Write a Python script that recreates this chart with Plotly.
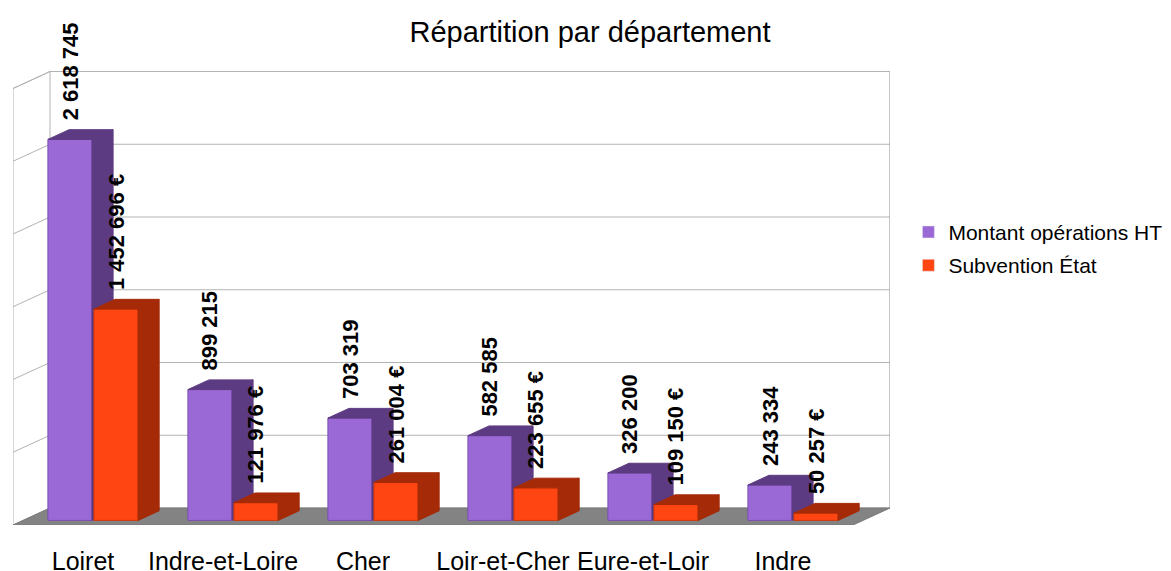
import plotly.graph_objects as go


# -------------------------------------------------
# Data
# -------------------------------------------------

departements = ["Loiret", "Indre-et-Loire", "Cher", "Loir-et-Cher", "Eure-et-Loir", "Indre"]
montant_ht = [2618745, 899215, 703319, 582585, 326200, 243334]
subvention = [1452696, 121976, 261004, 223655, 109150, 50257]

series_names = ["Montant opérations HT", "Subvention État"]
grid_values = [500000, 1000000, 1500000, 2000000, 2500000, 3000000]


# -------------------------------------------------
# Fake 3D geometry (in data units)
# -------------------------------------------------

PX_PER_UNIT = 145.5 / 1e6          # pixels per euro on the value axis
DEPTH_X = 37 / 140                 # full depth offset, in category slots
DEPTH_Y = 17 / PX_PER_UNIT         # full depth offset, in euros
BAR_D0, BAR_D1 = 0.27, 0.84        # bar depth (front / back)
BAR_W = 0.315
Y_TOP = 455 / PX_PER_UNIT

front_col = ["#9b69d5", "#ff4511"]
dark_col = ["#5d3b82", "#a52a07"]
edge_col = ["#7a4fb0", "#d13a0c"]

# the page body has an 8px margin, so the figure is drawn 8px in
PAGE = 8
W, H = 1171 - PAGE, 571 - PAGE


def proj(x, v, d):
    return x + d * DEPTH_X, v + d * DEPTH_Y


def bar_faces(values, offset):
    front_x, front_y, top_x, top_y, side_x, side_y = [], [], [], [], [], []
    for i, v in enumerate(values):
        x0 = i + 0.5 + offset - BAR_W / 2
        x1 = x0 + BAR_W
        for pts, bx, by in (
            ([(x0, 0, BAR_D0), (x1, 0, BAR_D0), (x1, v, BAR_D0), (x0, v, BAR_D0)], front_x, front_y),
            ([(x0, v, BAR_D0), (x1, v, BAR_D0), (x1, v, BAR_D1), (x0, v, BAR_D1)], top_x, top_y),
            ([(x1, 0, BAR_D0), (x1, 0, BAR_D1), (x1, v, BAR_D1), (x1, v, BAR_D0)], side_x, side_y),
        ):
            for p in pts:
                px, py = proj(*p)
                bx.append(px)
                by.append(py)
            px, py = proj(*pts[0])
            bx += [px, None]
            by += [py, None]
    return (front_x, front_y), (top_x, top_y), (side_x, side_y)


fig = go.Figure()

n = len(departements)

# -------------------------------------------------
# Walls, floor and grid
# -------------------------------------------------

wall_x, wall_y = [], []
for p in [(0, 0, 0), (0, 0, 1), (n, 0, 1), (n, grid_values[-1], 1),
          (0, grid_values[-1], 1), (0, grid_values[-1], 0), (0, 0, 0)]:
    px, py = proj(*p)
    wall_x.append(px)
    wall_y.append(py)

fig.add_trace(go.Scatter(x=wall_x, y=wall_y, mode="lines", fill="toself",
                         fillcolor="white", line=dict(color="#b3b3b3", width=1),
                         hoverinfo="skip", showlegend=False))

grid_x, grid_y = [], []
for g in grid_values:
    for p in [(0, g, 0), (0, g, 1), (n, g, 1)]:
        px, py = proj(*p)
        grid_x.append(px)
        grid_y.append(py)
    grid_x.append(None)
    grid_y.append(None)
for p in [(0, 0, 1), (0, grid_values[-1], 1), None, (n, 0, 1), (n, grid_values[-1], 1)]:
    if p is None:
        grid_x.append(None)
        grid_y.append(None)
        continue
    px, py = proj(*p)
    grid_x.append(px)
    grid_y.append(py)

fig.add_trace(go.Scatter(x=grid_x, y=grid_y, mode="lines",
                         line=dict(color="#b3b3b3", width=1),
                         hoverinfo="skip", showlegend=False))

floor_x, floor_y = [], []
for p in [(0, 0, 0), (n, 0, 0), (n, 0, 1), (0, 0, 1), (0, 0, 0)]:
    px, py = proj(*p)
    floor_x.append(px)
    floor_y.append(py)

fig.add_trace(go.Scatter(x=floor_x, y=floor_y, mode="lines", fill="toself",
                         fillcolor="#838383", line=dict(color="#7a7a7a", width=1),
                         hoverinfo="skip", showlegend=False))

# -------------------------------------------------
# Bars
# -------------------------------------------------

offsets = [-BAR_W / 2 - 0.007, BAR_W / 2 + 0.007]

for k, values in enumerate([montant_ht, subvention]):
    front, top, side = bar_faces(values, offsets[k])
    for (fx, fy), fill in ((front, front_col[k]), (top, dark_col[k]), (side, dark_col[k])):
        fig.add_trace(go.Scatter(
            x=fx, y=fy, mode="lines", fill="toself", fillcolor=fill,
            line=dict(color=edge_col[k] if fill == front_col[k] else dark_col[k], width=1),
            hoverinfo="skip", showlegend=False
        ))

# legend entries only
for k, name in enumerate(series_names):
    fig.add_trace(go.Bar(x=[None], y=[None], name=name,
                         marker=dict(color=front_col[k]),
                         legendgroup=name))

# -------------------------------------------------
# Value labels
# -------------------------------------------------

for k, values in enumerate([montant_ht, subvention]):
    for i, v in enumerate(values):
        cx = i + 0.5 + offsets[k]
        px, py = proj(cx, v, BAR_D0)
        txt = f"{v:,}".replace(",", " ")
        if k == 1:
            txt += " €"
        fig.add_annotation(
            x=px, y=py, text=f"<b>{txt}</b>", textangle=-90,
            showarrow=False, xanchor="center", yanchor="bottom", yshift=17,
            font=dict(family="Liberation Sans", size=22, color="black")
        )

fig.update_layout(
    width=W,
    height=H,
    paper_bgcolor="white",
    plot_bgcolor="white",
    margin=dict(l=13 - PAGE, r=281, t=70 - PAGE, b=46, autoexpand=False),
    font=dict(family="Liberation Sans", color="black"),
    title=dict(text="Répartition par département", x=(590 - PAGE) / W, xref="container",
               y=1 - (32 - PAGE) / H, yref="container", xanchor="center", yanchor="middle",
               font=dict(size=29, family="Liberation Sans", color="black")),
    showlegend=True,
    legend=dict(x=1.021, xanchor="left", y=0.607, yanchor="middle",
                font=dict(size=21, family="Liberation Sans"),
                tracegroupgap=3, bgcolor="rgba(0,0,0,0)"),
    xaxis=dict(range=[0, n + DEPTH_X], showgrid=False, zeroline=False,
               showline=False, tickvals=[i + 0.5 for i in range(n)],
               ticktext=departements, ticks="", ticklabelstandoff=19,
               tickfont=dict(size=25), automargin=False, fixedrange=True),
    yaxis=dict(range=[0, Y_TOP], showgrid=False, zeroline=False,
               showline=False, showticklabels=False, automargin=False,
               fixedrange=True),
)

fig.write_html("out.html")
